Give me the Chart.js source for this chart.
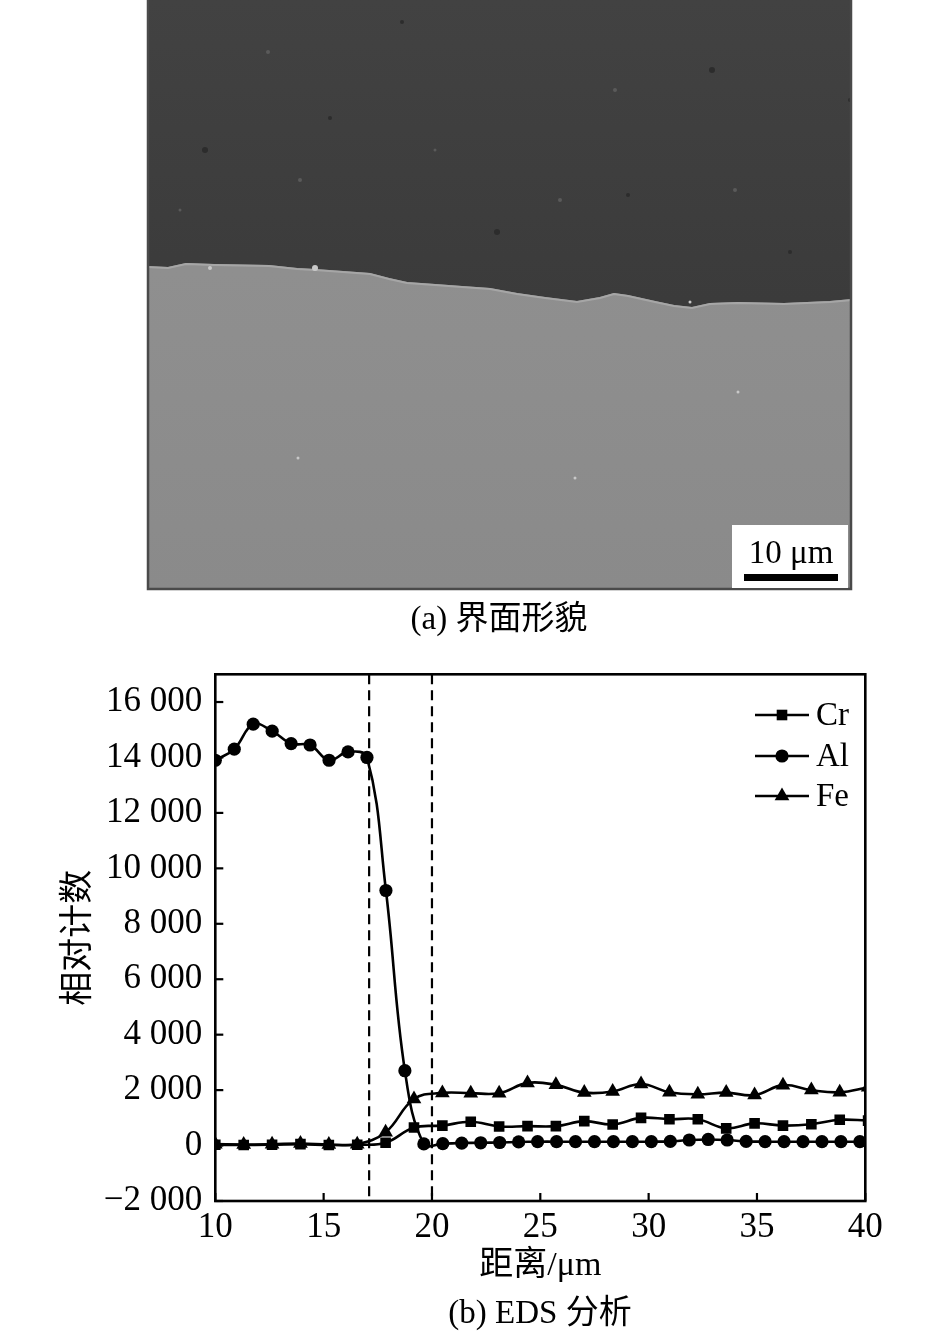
<!DOCTYPE html>
<html><head><meta charset="utf-8">
<script src="https://cdn.jsdelivr.net/npm/chart.js@4.4.1/dist/chart.umd.min.js"></script>
<style>
html,body{margin:0;padding:0;background:#fff;width:945px;height:1336px;overflow:hidden;}
#sem{position:absolute;left:0;top:0;}
#chartWrap{position:absolute;left:0;top:640px;width:945px;height:696px;}
.cap{position:absolute;font-family:'Liberation Serif','Noto Sans CJK SC',serif;font-size:33px;color:#000;white-space:nowrap;transform:translate(-50%,-50%);line-height:1;}
</style></head><body>
<canvas id="sem" width="945" height="640"></canvas>
<div class="cap" style="left:499px;top:618px">(a) 界面形貌</div>
<div id="chartWrap"><canvas id="c" width="945" height="696"></canvas></div>
<div class="cap" style="left:540px;top:1312px">(b) EDS 分析</div>
<script>
// ---------- data ----------
const crFeX = [10,11.31,12.62,13.93,15.24,16.55,17.86,19.17,20.48,21.79,23.1,24.41,25.72,27.03,28.34,29.65,30.96,32.27,33.58,34.89,36.2,37.51,38.82,40.13];
const crY   = [30,20,30,50,20,30,100,650,720,860,690,700,700,880,760,1000,950,950,620,800,720,770,930,900];
const feY   = [50,40,50,70,40,50,480,1680,1900,1890,1890,2260,2190,1910,1950,2220,1920,1850,1910,1820,2180,2000,1920,2100];
const alX   = [10,10.875,11.75,12.625,13.5,14.375,15.25,16.125,17,17.875,18.75,19.625,20.5,21.375,22.25,23.125,24,24.875,25.75,26.625,27.5,28.375,29.25,30.125,31,31.875,32.75,33.625,34.5,35.375,36.25,37.125,38,38.875,39.75];
const alY   = [13900,14300,15200,14950,14500,14450,13900,14200,14000,9200,2700,60,70,90,100,110,130,140,140,140,140,140,140,140,150,200,220,200,150,140,140,140,140,140,140];
const seriesNames = ['Cr','Al','Fe'];
const dashedX = [17.1, 20.0];
const xTickValues = [10,15,20,25,30,35,40];
const yTickValues = [-2000,0,2000,4000,6000,8000,10000,12000,14000,16000];
const xTitle = '距离/μm';
const yTitle = '相对计数';

// ---------- SEM micrograph (picture, not data) ----------
(function(){
  const cv = document.getElementById('sem'); const g = cv.getContext('2d');
  const L=147,R=852,T=0,B=590;
  const dg = g.createLinearGradient(0,0,0,300);
  dg.addColorStop(0,'#424242'); dg.addColorStop(1,'#3b3b3b');
  g.fillStyle=dg; g.fillRect(L,T,R-L,B-T);
  // a few dark pits and light specks in the coating
  g.fillStyle='#2c2c2c';
  [[205,150,3],[330,118,2],[497,232,3],[712,70,3],[790,252,2],[628,195,2],[402,22,2],[850,100,2]].forEach(p=>{g.beginPath();g.arc(p[0],p[1],p[2],0,Math.PI*2);g.fill();});
  g.fillStyle='#5a5a5a';
  [[268,52,2],[300,180,2],[560,200,2],[615,90,2],[735,190,2],[435,150,1.5],[180,210,1.5]].forEach(p=>{g.beginPath();g.arc(p[0],p[1],p[2],0,Math.PI*2);g.fill();});
  const edge = [[147,266],[168,267],[186,263],[214,264],[269,265],[297,268],[315,269],[343,271],[370,273],[389,278],[407,282],[435,284],[462,286],[490,288],[517,293],[545,297],[577,301],[600,297],[614,293],[628,295],[655,301],[674,305],[692,307],[710,303],[738,302],[784,303],[830,301],[852,299]];
  const grad = g.createLinearGradient(0,270,0,590);
  grad.addColorStop(0,'#8f8f8f'); grad.addColorStop(1,'#8a8a8a');
  g.fillStyle=grad;
  g.beginPath(); g.moveTo(edge[0][0],edge[0][1]);
  edge.forEach(p=>g.lineTo(p[0],p[1]));
  g.lineTo(R,B); g.lineTo(L,B); g.closePath(); g.fill();
  g.strokeStyle='#a6a6a6'; g.lineWidth=2;
  g.beginPath(); g.moveTo(edge[0][0],edge[0][1]+1); edge.forEach(p=>g.lineTo(p[0],p[1]+1)); g.stroke();
  g.fillStyle='#c8c8c8';
  [[315,268,3],[210,268,2],[738,392,1.5],[298,458,1.5],[575,478,1.5],[690,302,1.5]].forEach(p=>{g.beginPath();g.arc(p[0],p[1],p[2],0,Math.PI*2);g.fill();});
  // frame
  g.strokeStyle='#4a4a4a'; g.lineWidth=2.5;
  g.beginPath(); g.moveTo(L+1,T); g.lineTo(L+1,B-1); g.lineTo(R-1,B-1); g.lineTo(R-1,T); g.stroke();
  // scale bar
  g.fillStyle='#fff'; g.fillRect(732,525,116,63);
  g.fillStyle='#000'; g.font="33px 'Liberation Serif', serif"; g.textAlign='center'; g.textBaseline='alphabetic';
  g.fillText('10 μm',791,563);
  g.fillRect(744,574,94,7);
})();

// ---------- chart ----------
const FONT = "'Liberation Serif','Noto Sans CJK SC',serif";
function fmt(v){const s=Math.abs(v).toString().replace(/\B(?=(\d{3})+(?!\d))/g,' ');return (v<0?'\u2212':'')+s;}
function mk(ctx, style, x, y, r){
  ctx.beginPath();
  if(style==='circle'){ctx.arc(x,y,r,0,Math.PI*2);}
  else if(style==='rect'){const s=r*Math.SQRT1_2;ctx.rect(x-s,y-s,2*s,2*s);}
  else {ctx.moveTo(x,y-r);ctx.lineTo(x+Math.sin(2*Math.PI/3)*r,y-Math.cos(2*Math.PI/3)*r);ctx.lineTo(x+Math.sin(4*Math.PI/3)*r,y-Math.cos(4*Math.PI/3)*r);ctx.closePath();}
  ctx.fill();
}
const framePlugin = {
  id:'frame',
  beforeDatasetsDraw(chart){
    const {ctx, chartArea:a, scales:{x}} = chart;
    ctx.save(); ctx.strokeStyle='#000'; ctx.lineWidth=2.2; ctx.setLineDash([10,6]);
    dashedX.forEach(v=>{const px=x.getPixelForValue(v);ctx.beginPath();ctx.moveTo(px,a.top);ctx.lineTo(px,a.bottom);ctx.stroke();});
    ctx.restore();
  },
  afterDraw(chart){
    const {ctx, chartArea:a, scales:{x,y}} = chart;
    ctx.save(); ctx.strokeStyle='#000'; ctx.lineWidth=2.6;
    ctx.strokeRect(a.left,a.top,a.right-a.left,a.bottom-a.top);
    ctx.lineWidth=2.2;
    y.ticks.forEach(t=>{const py=y.getPixelForValue(t.value);ctx.beginPath();ctx.moveTo(a.left,py);ctx.lineTo(a.left+8,py);ctx.stroke();});
    x.ticks.forEach(t=>{const px=x.getPixelForValue(t.value);ctx.beginPath();ctx.moveTo(px,a.bottom);ctx.lineTo(px,a.bottom-8);ctx.stroke();});
    // legend
    const rows=[75,116,156];
    chart.data.datasets.forEach((ds,i)=>{
      const yy=rows[i];
      ctx.lineWidth=2.6; ctx.strokeStyle='#000'; ctx.fillStyle='#000';
      ctx.beginPath(); ctx.moveTo(755,yy); ctx.lineTo(809,yy); ctx.stroke();
      mk(ctx, ds.pointStyle, 782, yy, ds.pointRadius);
      ctx.font="33px "+FONT; ctx.textAlign='left'; ctx.textBaseline='middle';
      ctx.fillText(ds.label, 816, yy+1);
    });
    ctx.restore();
  }
};
function ser(xs,ys){return xs.map((v,i)=>({x:v,y:ys[i]}));}
const common = {borderColor:'#000',backgroundColor:'#000',borderWidth:2.6,tension:0.4,pointBorderWidth:0,showLine:true,fill:false};
new Chart(document.getElementById('c'),{
  type:'line',
  data:{datasets:[
    Object.assign({label:seriesNames[0],data:ser(crFeX,crY),pointStyle:'rect',pointRadius:7.5},common),
    Object.assign({label:seriesNames[1],data:ser(alX,alY),pointStyle:'circle',pointRadius:6.6},common),
    Object.assign({label:seriesNames[2],data:ser(crFeX,feY),pointStyle:'triangle',pointRadius:8.5},common)
  ]},
  options:{
    responsive:false, animation:false, devicePixelRatio:1,
    layout:{padding:{left:0,right:79.7,top:34.3,bottom:0}},
    plugins:{legend:{display:false},tooltip:{enabled:false}},
    scales:{
      x:{type:'linear',min:10,max:40,
        afterBuildTicks:s=>{s.ticks=xTickValues.map(v=>({value:v}));},
        ticks:{font:{family:FONT,size:35},color:'#000',padding:6,maxRotation:0,autoSkip:false,callback:v=>String(v)},
        grid:{display:false,drawTicks:false},border:{display:false},
        title:{display:true,text:xTitle,font:{family:FONT,size:34},color:'#000',padding:{top:0,bottom:50}},
        afterFit:s=>{s.height=135;}
      },
      y:{min:-2000,max:17000,
        afterBuildTicks:s=>{s.ticks=yTickValues.map(v=>({value:v}));},
        ticks:{font:{family:FONT,size:35},color:'#000',padding:13,callback:v=>fmt(v)},
        grid:{display:false,drawTicks:false},border:{display:false},
        title:{display:true,text:yTitle,font:{family:FONT,size:34},color:'#000',padding:{top:59,bottom:0}},
        afterFit:s=>{s.width=215.3;}
      }
    }
  },
  plugins:[framePlugin]
});
</script>
</body></html>
